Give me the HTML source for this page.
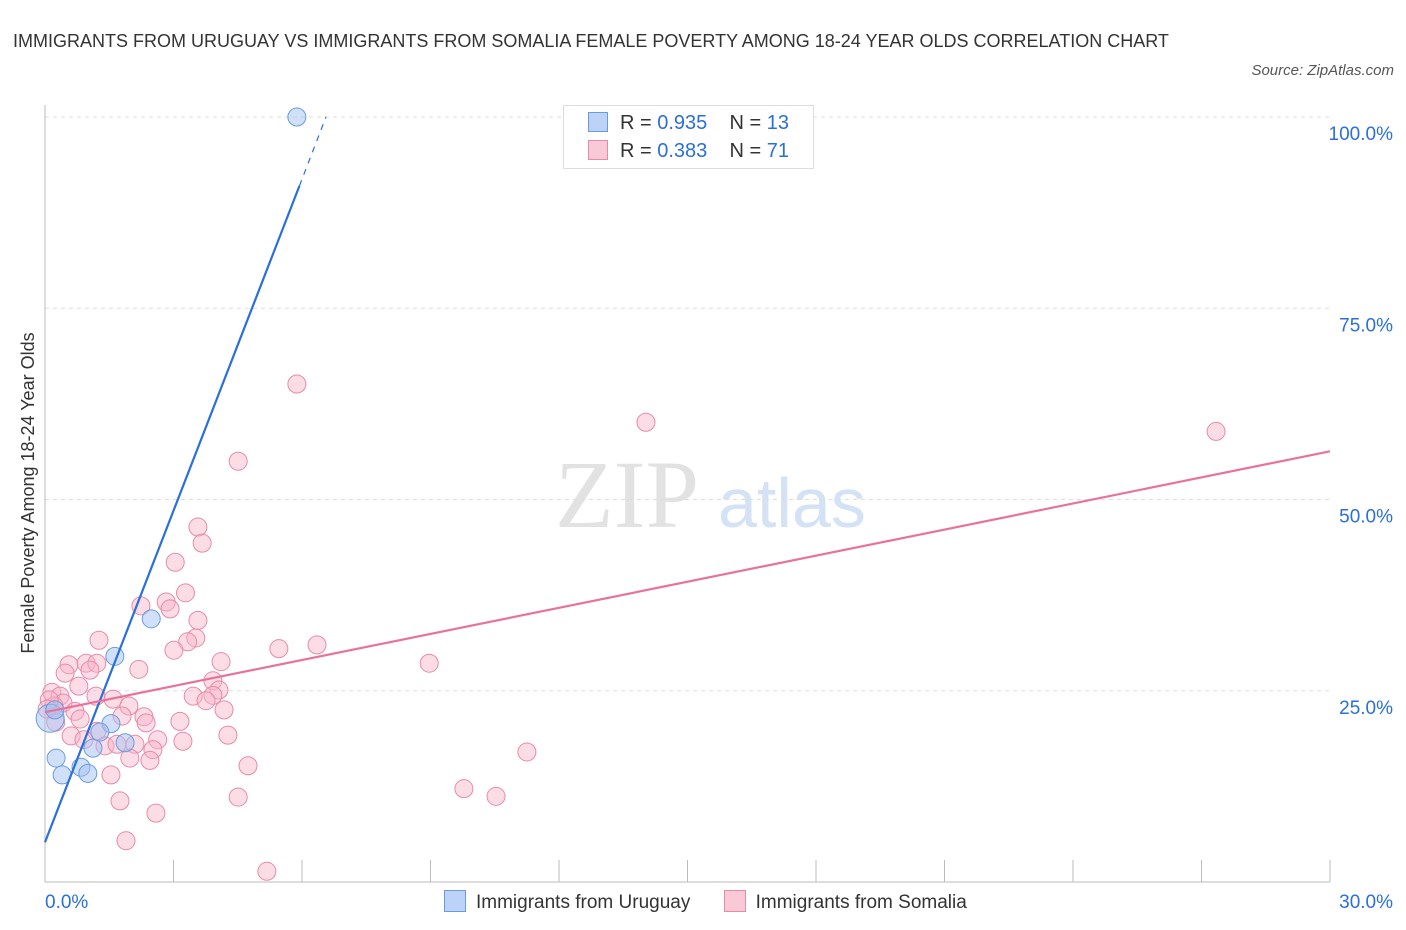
<!DOCTYPE html>
<html><head><meta charset="utf-8"><style>
body{margin:0;background:#fff;font-family:"Liberation Sans",sans-serif}
#wrap{position:relative;width:1406px;height:930px;overflow:hidden}
</style></head><body>
<div id="wrap">
<div style="position:absolute;left:13px;top:22px;font-size:18px;color:#333;line-height:38px;width:1180px">IMMIGRANTS FROM URUGUAY VS IMMIGRANTS FROM SOMALIA FEMALE POVERTY AMONG 18-24 YEAR OLDS CORRELATION CHART</div>
<div style="position:absolute;right:12px;top:62px;font-size:15px;color:#555;font-style:italic">Source: ZipAtlas.com</div>
<svg id="chart" width="1406" height="930" style="position:absolute;left:0;top:0">
<text x="555" y="527" font-family="Liberation Serif,serif" font-size="96" fill="#e2e2e2">ZIP</text>
<text x="718" y="527" font-family="Liberation Sans,sans-serif" font-size="70" fill="#d3e2f5">atlas</text>
<text transform="translate(34,493) rotate(-90)" text-anchor="middle" font-size="18" fill="#333">Female Poverty Among 18-24 Year Olds</text>
<g id="grid"></g><g id="pts"></g><g id="lines"></g>
</svg>
<div style="position:absolute;left:563px;top:105px;width:249px;height:62px;border:1px solid #ddd;background:#fff;font-size:20px;color:#333">
<div style="position:absolute;left:26px;top:6px;white-space:nowrap"><span style="display:inline-block;width:18px;height:18px;background:#bcd3f7;border:1px solid #6a9be0;vertical-align:-3px;margin-right:12px;margin-left:-2px"></span>R = <span style="color:#2a6fdb">0.935</span>&nbsp;&nbsp;&nbsp; N = <span style="color:#2a6fdb">13</span></div>
<div style="position:absolute;left:26px;top:34px;white-space:nowrap"><span style="display:inline-block;width:18px;height:18px;background:#f9c9d7;border:1px solid #e88aa8;vertical-align:-3px;margin-right:12px;margin-left:-2px"></span>R = <span style="color:#2a6fdb">0.383</span>&nbsp;&nbsp;&nbsp; N = <span style="color:#2a6fdb">71</span></div>
</div>
<div style="position:absolute;left:444px;top:890px;font-size:19px;color:#333;white-space:nowrap">
<span><span style="display:inline-block;width:20px;height:20px;background:#bcd3f7;border:1px solid #6a9be0;vertical-align:-4px;margin-right:10px"></span>Immigrants from Uruguay</span>
<span style="margin-left:28px"><span style="display:inline-block;width:20px;height:20px;background:#f9c9d7;border:1px solid #e88aa8;vertical-align:-4px;margin-right:10px"></span>Immigrants from Somalia</span>
</div>
</div>
<script>
const uruguayX=[5.88,2.48,1.63,1.54,1.87,1.28,1.12,0.26,0.84,1.00,0.40,0.12,0.23];
const uruguayY=[100,34.4,29.5,20.7,18.2,19.6,17.5,16.2,15.0,14.2,14.0,21.4,22.5];
const uruguaySize=[9,9,9,9,9,9,9,9,9,9,9,14,9];
const somaliaX=[5.88,14.03,27.34,4.51,3.57,3.67,3.04,3.28,2.24,2.83,2.92,3.57,1.26,3.52,3.33,3.01,5.46,6.35,4.11,8.97,2.19,0.56,0.96,1.21,1.05,0.47,0.79,0.16,0.35,1.19,1.59,3.92,4.06,3.46,3.92,3.76,4.18,1.96,0.42,0.21,0.70,0.82,1.80,2.31,2.36,3.15,1.21,0.61,0.91,1.40,1.68,2.10,2.63,3.22,4.27,2.52,1.98,2.45,4.74,11.25,1.54,9.78,10.53,4.51,1.75,2.59,1.89,5.18,0.10,0.25,0.05];
const somaliaY=[65.1,60.1,58.9,55.0,46.4,44.3,41.8,37.8,36.1,36.6,35.7,34.2,31.6,31.9,31.4,30.3,30.5,31.0,28.8,28.6,27.8,28.4,28.6,28.6,27.7,27.3,25.6,24.8,24.3,24.3,23.9,26.3,25.1,24.3,24.4,23.7,22.5,23.0,23.4,23.0,22.3,21.3,21.7,21.6,20.8,21.0,19.7,19.1,18.6,17.8,18.0,18.0,18.6,18.4,19.2,17.3,16.2,15.9,15.2,17.0,14.0,12.2,11.2,11.1,10.6,9.0,5.4,1.4,23.8,20.9,22.6];
const uruguayTrend=[0,5.2,5.94,91.0,6.56,100];
const somaliaTrend=[0,22.2,30,56.3];
const yTicks=[100,75,50,25];
const xTickLabels=["0.0%","30.0%"];
const NS="http://www.w3.org/2000/svg";
const X=v=>45+v/30*1285, Y=v=>882-v/100*765;
function mk(tag,attrs,parent){const e=document.createElementNS(NS,tag);for(const k in attrs)e.setAttribute(k,attrs[k]);document.getElementById(parent).appendChild(e);return e;}
yTicks.forEach(t=>{
 const l=mk('line',{x1:45,x2:1330,y1:Y(t),y2:Y(t),stroke:'#ddd','stroke-dasharray':'4,4'},'grid');
 
 
 const tx=mk('text',{x:1393,y:Y(t)+23,'text-anchor':'end','font-size':19,fill:'#2a6fdb'},'grid');tx.textContent=t.toFixed(1)+'%';
 
 
});
let ax=mk('line',{x1:45,x2:1330,y1:882,y2:882,stroke:'#bbb'},'grid');


let ay=mk('line',{x1:45,x2:45,y1:105,y2:882,stroke:'#bbb'},'grid');


for(let i=0;i<=10;i++){const t=mk('line',{x1:X(i*3),x2:X(i*3),y1:860,y2:882,stroke:'#bbb'},'grid');
 
 }
[[0,'start',45],[30,'end',1393]].forEach((d,i)=>{const t=mk('text',{x:d[2],y:908,'text-anchor':d[1],'font-size':19,fill:'#2a6fdb'},'grid');t.textContent=xTickLabels[i];
 
 });
somaliaX.forEach((x,i)=>{const c=mk('circle',{cx:X(x),cy:Y(somaliaY[i]),r:9,fill:'rgba(248,180,200,0.45)',stroke:'#e88aa8','stroke-width':1},'pts');
 
 });
uruguayX.forEach((x,i)=>{const c=mk('circle',{cx:X(x),cy:Y(uruguayY[i]),r:uruguaySize[i],fill:'rgba(164,194,244,0.5)',stroke:'#6a9be0','stroke-width':1},'pts');
 
 });
let l1=mk('line',{x1:X(uruguayTrend[0]),y1:Y(uruguayTrend[1]),x2:X(uruguayTrend[2]),y2:Y(uruguayTrend[3]),stroke:'#2a6fdb','stroke-width':2.2},'lines');


let l2=mk('line',{x1:X(uruguayTrend[2]),y1:Y(uruguayTrend[3]),x2:X(uruguayTrend[4]),y2:Y(uruguayTrend[5]),stroke:'#2a6fdb','stroke-width':1.2,'stroke-dasharray':'6,6'},'lines');


let l3=mk('line',{x1:X(somaliaTrend[0]),y1:Y(somaliaTrend[1]),x2:X(somaliaTrend[2]),y2:Y(somaliaTrend[3]),stroke:'#e8739a','stroke-width':2.2},'lines');


</script>
</body></html>
